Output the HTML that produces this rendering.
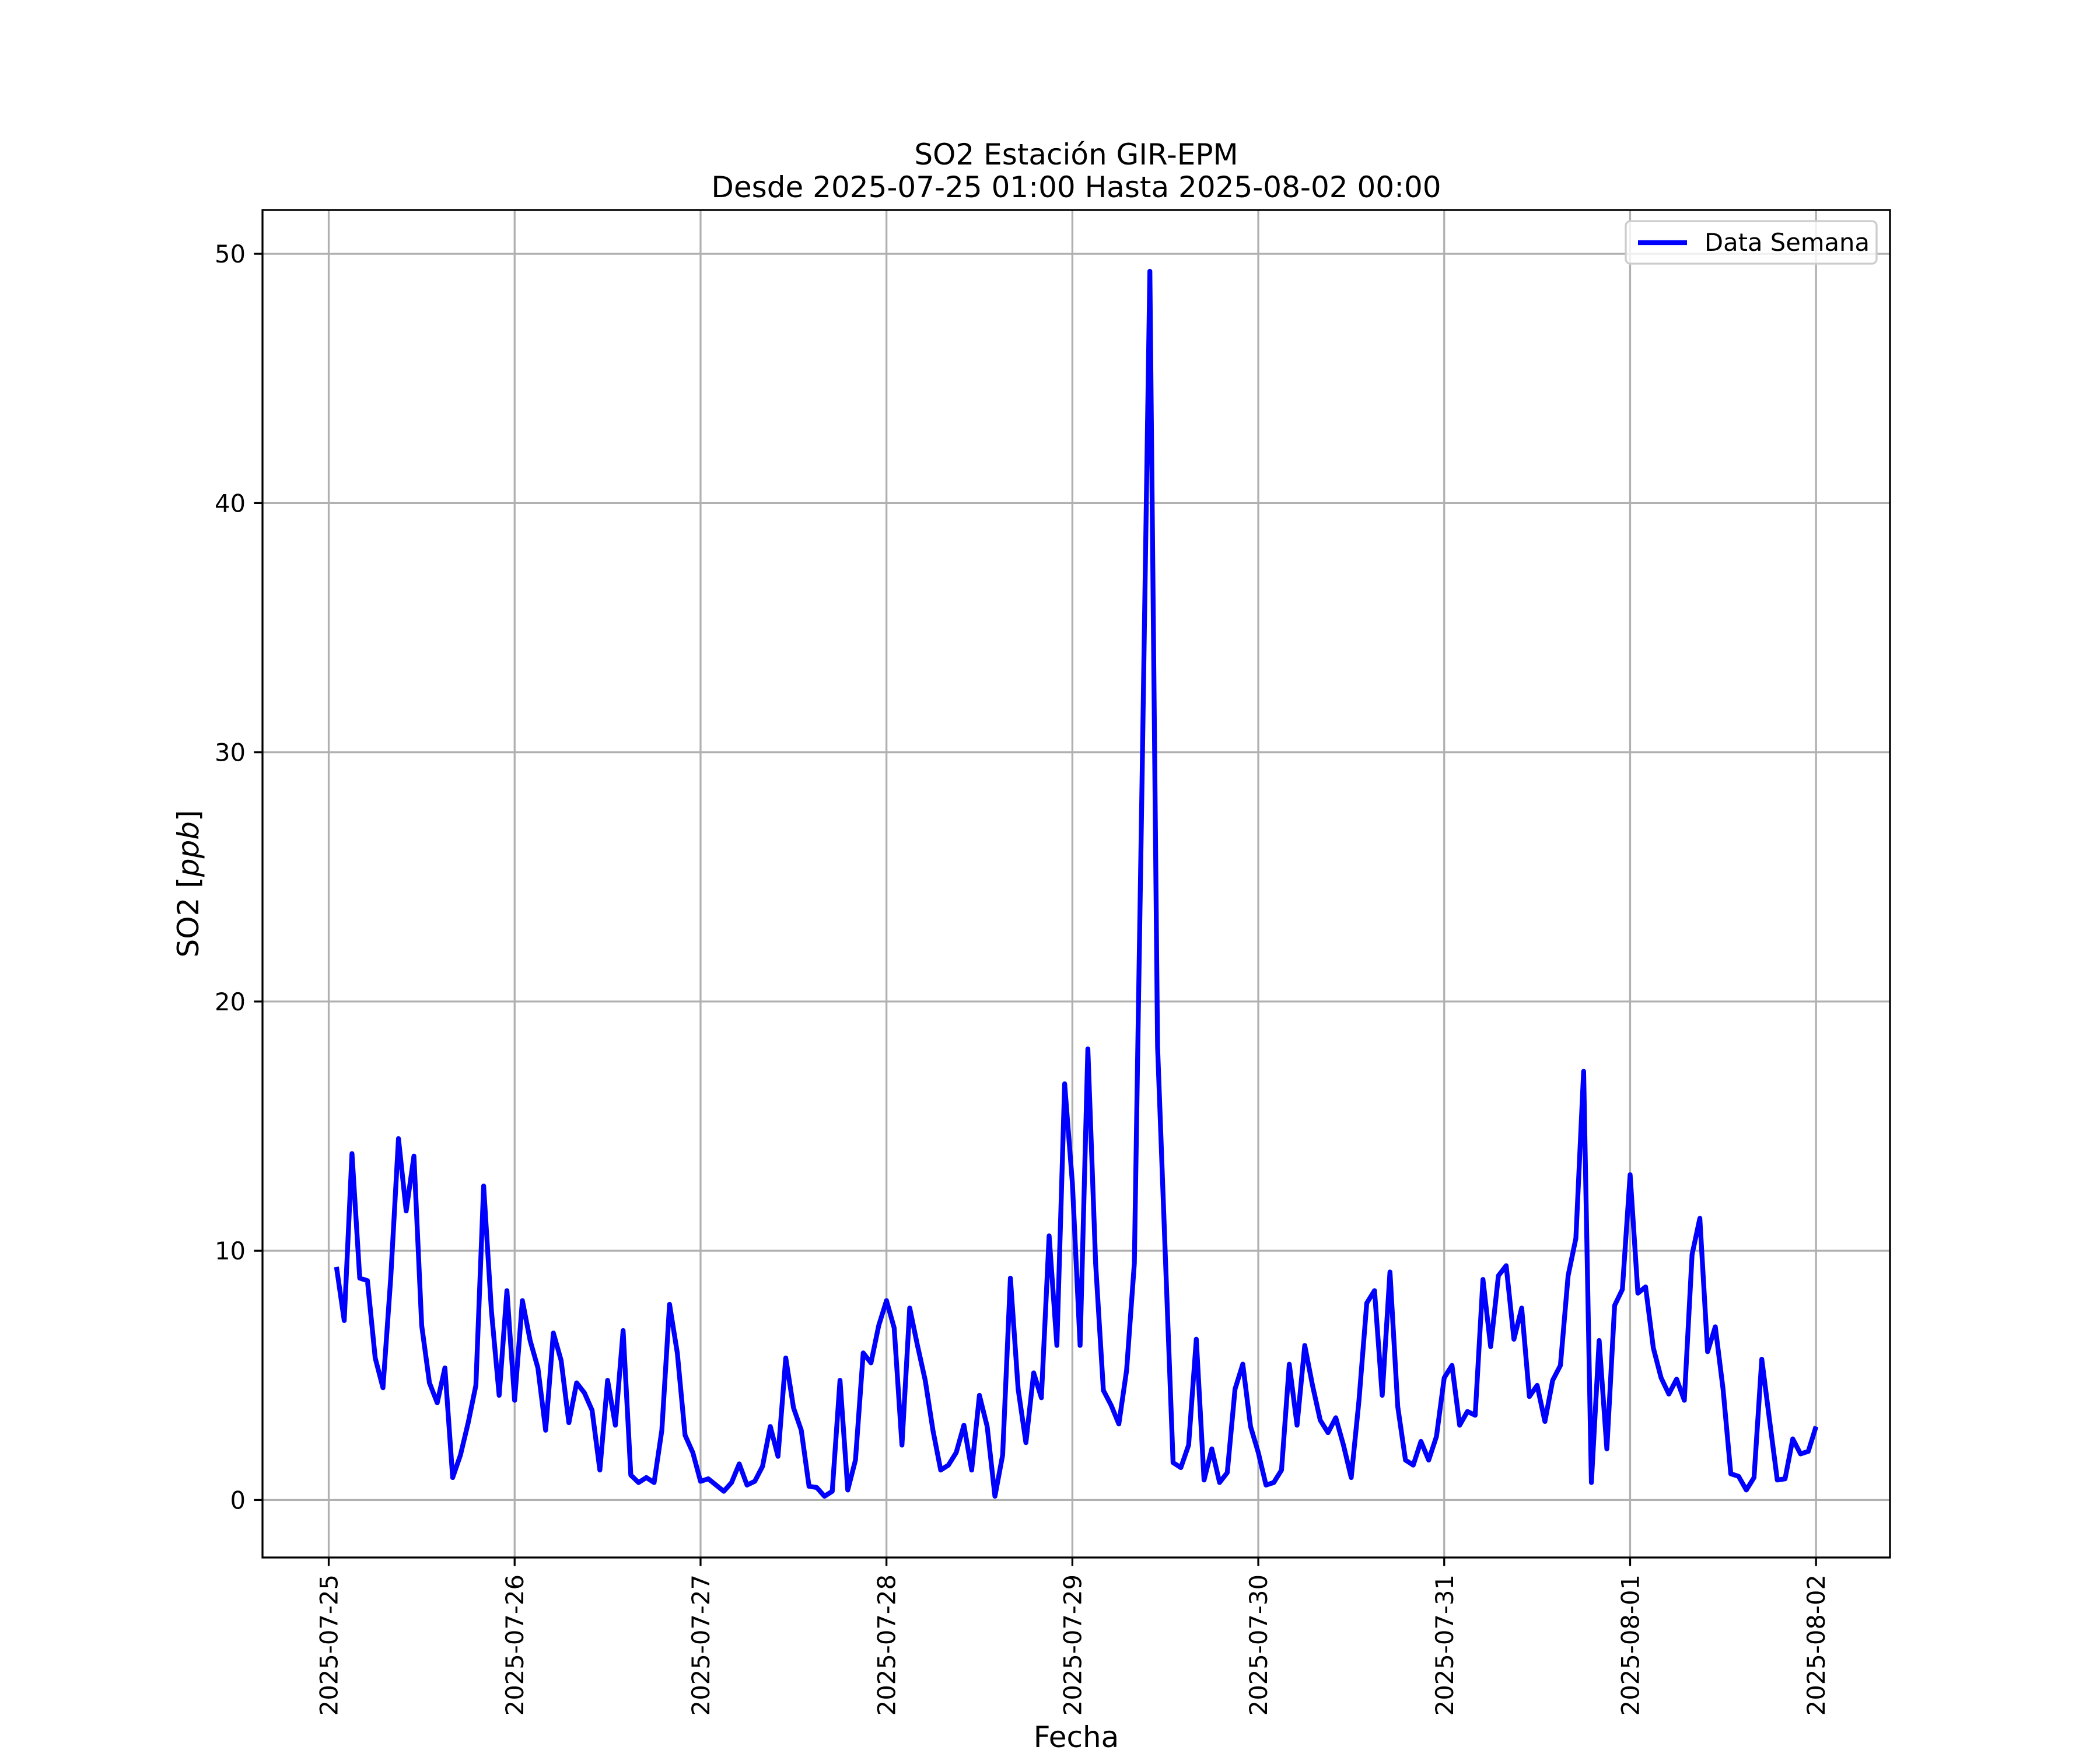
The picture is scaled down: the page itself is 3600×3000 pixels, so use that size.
<!DOCTYPE html>
<html><head><meta charset="utf-8"><style>
html,body{margin:0;padding:0;background:#fff;}
svg{display:block;font-family:"DejaVu Sans","Liberation Sans",sans-serif;}
</style></head><body>
<svg id="chart" width="3600" height="3000" viewBox="0 0 3600 3000" xmlns="http://www.w3.org/2000/svg">
<rect width="3600" height="3000" fill="#fff"/>
<text x="1845" y="282" font-size="50" text-anchor="middle">SO2 Estación GIR-EPM</text>
<text x="1845" y="338" font-size="50" text-anchor="middle">Desde 2025-07-25 01:00 Hasta 2025-08-02 00:00</text>
<g id="grid"></g>
<g id="series"></g>
<rect x="450" y="360" width="2790" height="2310" fill="none" stroke="#000" stroke-width="3.3"/>
<g id="ticks"></g>
<text transform="translate(340,1515) rotate(-90)" font-size="50" text-anchor="middle">SO2 [<tspan font-style="italic">ppb</tspan>]</text>
<text x="1845" y="2995" font-size="50" text-anchor="middle">Fecha</text>
<g>
<rect x="2787" y="379" width="430" height="73" rx="8" fill="#fff" fill-opacity="0.8" stroke="#ccc" stroke-width="3.3"/>
<line x1="2808" y1="416" x2="2892" y2="416" stroke="#0000ff" stroke-width="8.3"/>
<text x="2922" y="430" font-size="41.7">Data Semana</text>
</g>
</svg>
<script>
const dayLabels = ["2025-07-25","2025-07-26","2025-07-27","2025-07-28","2025-07-29","2025-07-30","2025-07-31","2025-08-01","2025-08-02"];
const yTicks = [0,10,20,30,40,50];
const so2 = [
9.35,7.2,13.9,8.9,8.8,5.7,4.5,8.9,14.5,11.6,13.8,7.0,4.7,3.9,5.3,0.9,1.8,3.1,4.6,12.6,7.6,4.2,8.4,4.0,
8.0,6.4,5.3,2.8,6.7,5.6,3.1,4.7,4.3,3.6,1.2,4.8,3.0,6.8,1.0,0.7,0.9,0.7,2.8,7.85,5.9,2.6,1.9,0.75,
0.85,0.6,0.35,0.7,1.45,0.6,0.75,1.35,2.95,1.75,5.7,3.7,2.8,0.55,0.5,0.15,0.35,4.8,0.4,1.6,5.9,5.5,7.0,8.0,
6.9,2.2,7.7,6.2,4.8,2.8,1.2,1.4,1.9,3.0,1.2,4.2,2.95,0.15,1.8,8.9,4.45,2.3,5.1,4.1,10.6,6.2,16.7,12.7,
6.2,18.1,9.5,4.4,3.8,3.05,5.2,9.5,29.0,49.3,18.2,9.8,1.5,1.3,2.2,6.45,0.8,2.05,0.7,1.1,4.45,5.45,2.95,1.9,
0.6,0.7,1.2,5.45,3.0,6.2,4.6,3.2,2.7,3.3,2.2,0.9,4.0,7.9,8.4,4.2,9.15,3.75,1.6,1.4,2.35,1.6,2.55,4.9,
5.4,3.0,3.55,3.4,8.85,6.15,9.0,9.4,6.45,7.7,4.15,4.6,3.15,4.8,5.4,9.0,10.5,17.2,0.7,6.4,2.05,7.8,8.45,13.05,
8.3,8.55,6.1,4.9,4.25,4.85,4.0,9.85,11.3,5.95,6.95,4.45,1.05,0.95,0.4,0.9,5.65,3.2,0.8,0.85,2.45,1.85,1.95,2.95
];
const NS="http://www.w3.org/2000/svg";
const L=450,R=3240,T=360,B=2670;
const hours = so2.map((v,i)=>(i+1)/24);
const xmin=hours[0], xmax=hours[hours.length-1], xm=(xmax-xmin)*0.05;
const ymn=Math.min(...so2), ymx=Math.max(...so2), ym=(ymx-ymn)*0.05;
const x0=xmin-xm, x1=xmax+xm, y0=ymn-ym, y1=ymx+ym;
function sx(d){return L+(d-x0)/(x1-x0)*(R-L);}
function sy(v){return B-(v-y0)/(y1-y0)*(B-T);}
function mk(tag,attrs,parent){const e=document.createElementNS(NS,tag);for(const k in attrs)e.setAttribute(k,attrs[k]);parent.appendChild(e);return e;}
const grid=document.getElementById('grid'), ticks=document.getElementById('ticks'), series=document.getElementById('series');
dayLabels.forEach((lab,i)=>{
  const x=sx(i);
  const g=mk('line',{x1:x,y1:T,x2:x,y2:B,stroke:'#b0b0b0','stroke-width':3.3},grid);
  
  
  const t=mk('line',{x1:x,y1:B,x2:x,y2:B+14.6,stroke:'#000','stroke-width':3.3},ticks);
  
  
  const tx=mk('text',{transform:`translate(${x+15},${B+29}) rotate(-90)`,'font-size':41.7,'text-anchor':'end'},ticks);
  tx.textContent=lab;
  
  
});
yTicks.forEach(v=>{
  const y=sy(v);
  const g=mk('line',{x1:L,y1:y,x2:R,y2:y,stroke:'#b0b0b0','stroke-width':3.3},grid);
  
  
  const t=mk('line',{x1:L-14.6,y1:y,x2:L,y2:y,stroke:'#000','stroke-width':3.3},ticks);
  
  
  const tx=mk('text',{x:L-29,y:y+15,'font-size':41.7,'text-anchor':'end'},ticks);
  tx.textContent=String(v);
  
  
});
const pts=so2.map((v,i)=>sx(hours[i]).toFixed(1)+','+sy(v).toFixed(1)).join(' ');
const pl=mk('polyline',{points:pts,fill:'none',stroke:'#0000ff','stroke-width':8.3,'stroke-linejoin':'round','stroke-linecap':'butt'},series);


</script>
</body></html>
